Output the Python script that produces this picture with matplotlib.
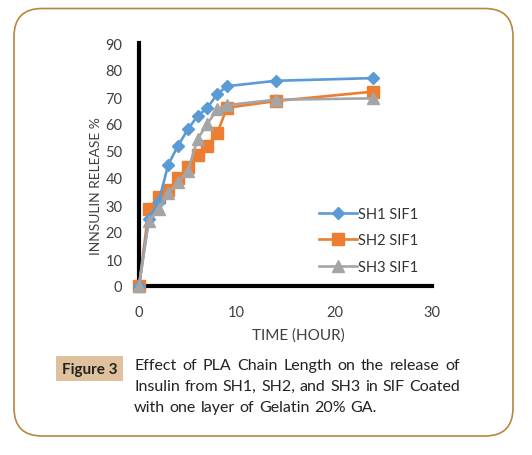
import matplotlib
matplotlib.use("Agg")
import matplotlib.pyplot as plt
from matplotlib.patches import FancyBboxPatch, Rectangle

plt.rcParams["font.family"] = ["Lato", "DejaVu Sans"]

# ── Data ───────────────────────────────────────────────────────────────
time_h = [0, 1, 2, 3, 4, 5, 6, 7, 8, 9, 14, 24]
sh1 = [0, 25, 31, 45, 52, 58, 63, 66, 71, 74, 76, 77]
sh2 = [0, 28.5, 33, 35.5, 40, 44, 48.5, 52, 56.5, 66, 68.5, 72]
sh3 = [0, 24, 28.5, 34.5, 38.5, 42.5, 54.5, 60, 65.5, 67, 69, 69.5]
labels = ["SH1 SIF1", "SH2 SIF1", "SH3 SIF1"]

caption_lines = [
    "Effect of PLA Chain Length on the release of",
    "Insulin from SH1, SH2, and SH3 in SIF Coated",
    "with one layer of Gelatin 20% GA.",
]

W, H = 532, 456
fig = plt.figure(figsize=(W / 100, H / 100), dpi=100)

# background axes in pixel units for the frame and caption
bg = fig.add_axes([0, 0, 1, 1], zorder=0)
bg.set_xlim(0, W)
bg.set_ylim(H, 0)
bg.axis("off")

frame = FancyBboxPatch((14, 9.5), 499, 427.5,
                       boxstyle="round,pad=0,rounding_size=28",
                       fc="white", ec="#b8863e", lw=1.2)
bg.add_patch(frame)

# ── Chart ───────────────────────────────────────────────────────────────
ax = fig.add_axes([139 / W, 1 - 287 / H, (432 - 139) / W, (287 - 44) / H], zorder=1)
ax.patch.set_alpha(0)

ax.plot(time_h, sh1, color="#5b9bd5", lw=1.9, marker="D", ms=6.5, label=labels[0],
        zorder=4, clip_on=False)
ax.plot(time_h, sh2, color="#ed7d31", lw=1.9, marker="s", ms=8, label=labels[1],
        zorder=3, clip_on=False)
ax.plot(time_h, sh3, color="#a5a5a5", lw=1.9, marker="^", ms=8, label=labels[2],
        zorder=5, clip_on=False)

ax.set_xlim(0, 30)
ax.set_ylim(0, 90)
ax.set_xticks([0, 10, 20, 30])
ax.set_yticks(range(0, 91, 10))
for s in ["top", "right"]:
    ax.spines[s].set_visible(False)
for s in ["left", "bottom"]:
    ax.spines[s].set_linewidth(3)
    ax.spines[s].set_color("black")
    ax.spines[s].set_zorder(2)
ax.tick_params(length=0, labelsize=10.5, labelcolor="#404040")
ax.tick_params(axis="x", pad=14)
ax.tick_params(axis="y", pad=12)

leg = ax.legend(frameon=False, fontsize=10.5, handlelength=2.6, handletextpad=0.1,
                labelspacing=0.85, loc="upper left", borderpad=0, borderaxespad=0,
                bbox_to_anchor=(319 / W, 1 - 208 / H), bbox_transform=fig.transFigure)
for t in leg.get_texts():
    t.set_color("#333333")

bg.text(96, 186, "INNSULIN RELEASE %", rotation=90, ha="center", va="center",
        fontsize=10, color="#404040")
bg.text(298, 336, "TIME (HOUR)", ha="center", va="center", fontsize=11, color="#404040")

# ── Caption ─────────────────────────────────────────────────────────────
bg.add_patch(Rectangle((56, 357), 67, 25, fc="#dfc19d", ec="none"))
bg.text(89.5, 370, "Figure 3", ha="center", va="center", fontsize=11,
        fontweight="bold", color="#222222")

fig.canvas.draw()
renderer = fig.canvas.get_renderer()
x_left, x_right = 134, 460
line_y = [366, 387, 408]
space_w = 3.5
for i, line in enumerate(caption_lines):
    words = line.split(" ")
    objs = [bg.text(0, line_y[i], w, ha="left", va="center", fontsize=11.5,
                    color="#222222") for w in words]
    widths = [o.get_window_extent(renderer).width for o in objs]
    if i < len(caption_lines) - 1:
        gap = (x_right - x_left - sum(widths)) / (len(words) - 1)
        space_w = gap
    else:
        gap = space_w
    x = x_left
    for o, w in zip(objs, widths):
        o.set_x(x)
        x += w + gap

fig.savefig("out.png", dpi=100)
